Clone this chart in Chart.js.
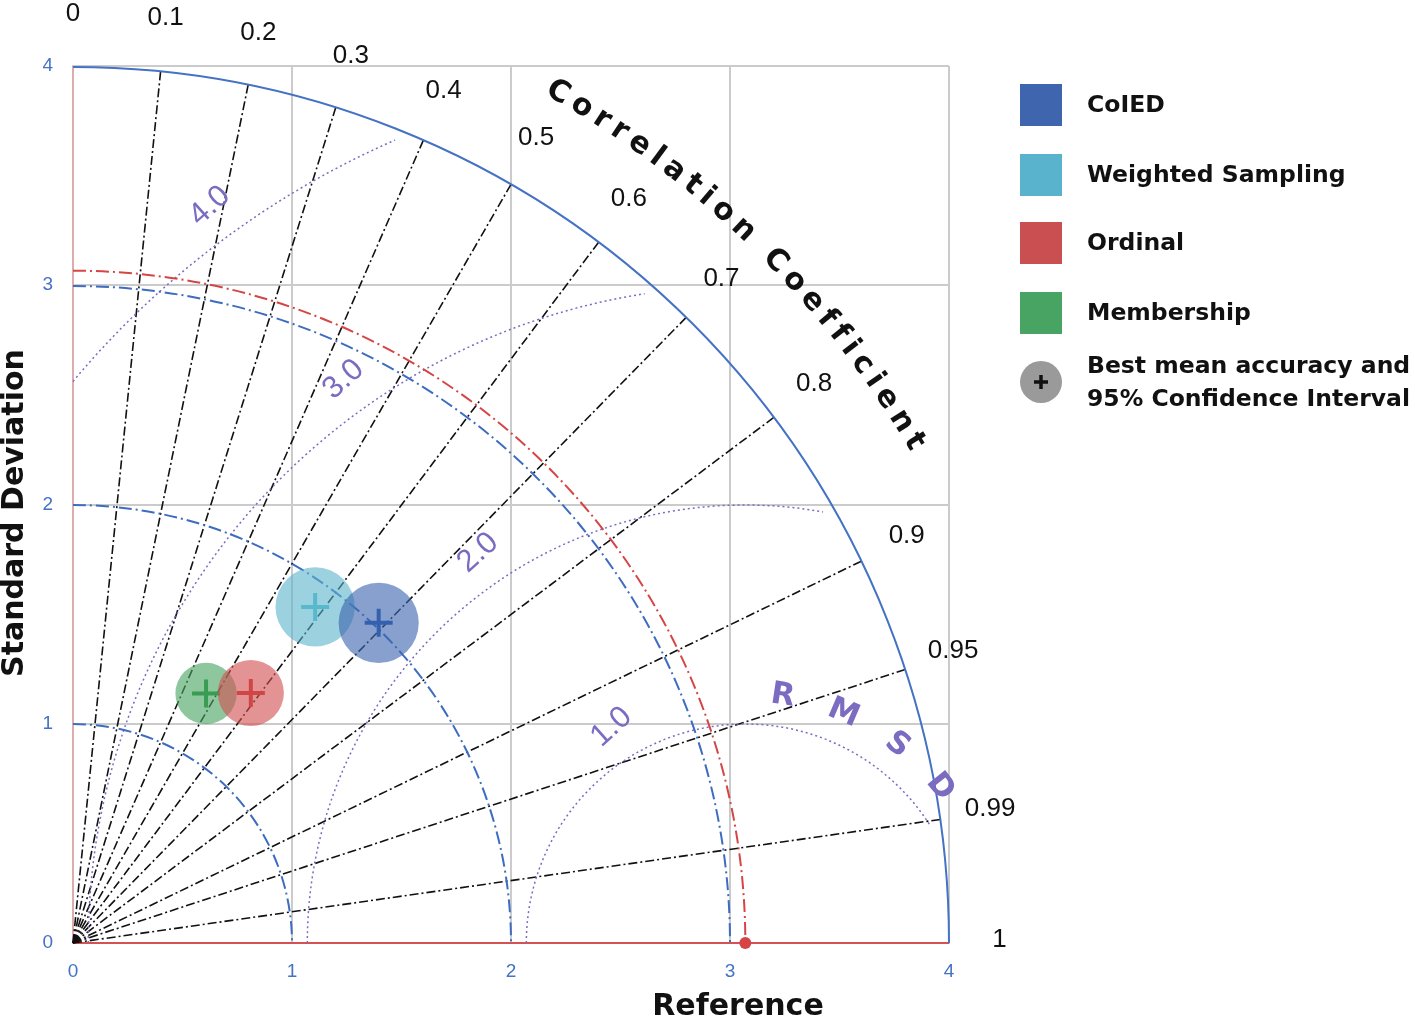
<!DOCTYPE html>
<html>
<head>
<meta charset="utf-8">
<script src="https://cdn.jsdelivr.net/npm/chart.js@4.4.1/dist/chart.umd.min.js"></script>
<style>
  html, body { margin: 0; padding: 0; background: #fff; }
  #wrap { position: relative; width: 1415px; height: 1020px; }
</style>
</head>
<body>
<div id="wrap"><canvas id="taylor"></canvas></div>
<script>
// Taylor diagram: std deviation (radius) vs correlation (angle), RMSD around the reference.
const METHODS = ['CoIED', 'Weighted Sampling', 'Ordinal', 'Membership'];
const STD_DEV = [2.02, 1.89, 1.40, 1.29];
const CORR = [0.691, 0.585, 0.580, 0.471];
const CI_RADIUS = [0.183, 0.181, 0.151, 0.140]; // 95% confidence interval, std-dev units

const REF_STD = 3.07;
const MAX_STD = 4;
const AXIS_TICKS = [0, 1, 2, 3, 4];
const STD_ARCS = [1, 2, 3];
const CORR_TICKS = [0, 0.1, 0.2, 0.3, 0.4, 0.5, 0.6, 0.7, 0.8, 0.9, 0.95, 0.99, 1];
const RMSD_LEVELS = [1, 2, 3, 4];
const RMSD_LABELS = ['1.0', '2.0', '3.0', '4.0'];

const SWATCH = ['#3e65ae', '#5ab3cc', '#c94f50', '#48a462'];
const FILL = ['rgba(62,101,174,0.62)', 'rgba(90,179,204,0.6)', 'rgba(210,80,82,0.62)', 'rgba(72,164,98,0.62)'];
const MARK = ['#3560b0', '#58b8cc', '#d04545', '#3a9c52'];

const BLUE = '#4472c4';
const PURPLE = '#7b6cc2';
const DEG = Math.PI / 180;

const toXY = i => ({ x: STD_DEV[i] * CORR[i], y: STD_DEV[i] * Math.sqrt(1 - CORR[i] * CORR[i]) });
const unitPx = chart => chart.scales.x.getPixelForValue(1) - chart.scales.x.getPixelForValue(0);

function arcText(ctx, text, cx, cy, radius, a0, a1) {
  // a0 / a1: angles (deg, counter-clockwise from +x) of the first and last glyph centres
  const chars = [...text];
  const w = chars.map(c => ctx.measureText(c).width);
  const inner = w.reduce((s, v) => s + v, 0) - w[0] / 2 - w[w.length - 1] / 2;
  const gap = ((a0 - a1) * DEG * radius - inner) / (chars.length - 1);
  let s = 0;
  chars.forEach((c, i) => {
    if (i > 0) s += w[i - 1] / 2 + gap + w[i] / 2;
    const ang = a0 * DEG - s / radius;
    ctx.save();
    ctx.translate(cx + radius * Math.cos(ang), cy - radius * Math.sin(ang));
    ctx.rotate(Math.PI / 2 - ang);
    ctx.fillText(c, 0, 0);
    ctx.restore();
  });
}

const taylorGrid = {
  id: 'taylorGrid',
  beforeDatasetsDraw(chart) {
    const { ctx, scales: { x, y } } = chart;
    const u = unitPx(chart);
    const ox = x.getPixelForValue(0), oy = y.getPixelForValue(0);
    const rx = x.getPixelForValue(REF_STD);
    ctx.save();

    // correlation = 0 and correlation = 1 edges
    ctx.setLineDash([]);
    ctx.strokeStyle = '#e3a3a3'; ctx.lineWidth = 1.5;
    ctx.beginPath(); ctx.moveTo(ox, oy); ctx.lineTo(ox, y.getPixelForValue(MAX_STD)); ctx.stroke();
    ctx.strokeStyle = '#d65252'; ctx.lineWidth = 2;
    ctx.beginPath(); ctx.moveTo(ox, oy); ctx.lineTo(x.getPixelForValue(MAX_STD), oy); ctx.stroke();

    // correlation rays
    ctx.strokeStyle = '#111'; ctx.lineWidth = 1.6; ctx.setLineDash([9, 3, 2, 3]);
    CORR_TICKS.filter(c => c > 0 && c < 1).forEach(c => {
      const a = Math.acos(c);
      ctx.beginPath(); ctx.moveTo(ox, oy);
      ctx.lineTo(ox + MAX_STD * u * Math.cos(a), oy - MAX_STD * u * Math.sin(a));
      ctx.stroke();
    });

    // RMSD contours around the reference point
    ctx.strokeStyle = PURPLE; ctx.lineWidth = 1.5; ctx.setLineDash([2, 3]);
    const clipR = 3.95;
    RMSD_LEVELS.forEach(r => {
      const start = r <= REF_STD ? Math.PI : Math.acos(-REF_STD / r);
      const xe = (clipR * clipR - r * r + REF_STD * REF_STD) / (2 * REF_STD);
      const end = Math.acos(Math.max(-1, Math.min(1, (xe - REF_STD) / r)));
      ctx.beginPath(); ctx.arc(rx, oy, r * u, -start, -end); ctx.stroke();
    });

    // standard deviation arcs
    ctx.strokeStyle = '#3d6cc0'; ctx.lineWidth = 2; ctx.setLineDash([13, 4, 2, 4]);
    STD_ARCS.forEach(r => { ctx.beginPath(); ctx.arc(ox, oy, r * u, -Math.PI / 2, 0); ctx.stroke(); });
    ctx.strokeStyle = '#d64545';
    ctx.beginPath(); ctx.arc(ox, oy, REF_STD * u, -Math.PI / 2, 0); ctx.stroke();

    ctx.setLineDash([]); ctx.strokeStyle = BLUE; ctx.lineWidth = 2;
    ctx.beginPath(); ctx.arc(ox, oy, MAX_STD * u, -Math.PI / 2, 0); ctx.stroke();
    ctx.restore();
  },
  afterDraw(chart) {
    const { ctx, scales: { x, y }, chartArea: area } = chart;
    const u = unitPx(chart);
    const ox = x.getPixelForValue(0), oy = y.getPixelForValue(0);
    const rx = x.getPixelForValue(REF_STD);
    ctx.save();
    ctx.textAlign = 'center'; ctx.textBaseline = 'middle';

    // axis titles
    ctx.fillStyle = '#111'; ctx.font = 'bold 30px "DejaVu Sans"';
    ctx.fillText('Reference', 738, 1007);
    ctx.save(); ctx.translate(15, 513); ctx.rotate(-Math.PI / 2);
    ctx.fillText('Standard Deviation', 0, 0); ctx.restore();

    // correlation tick labels
    ctx.font = '26px "Liberation Sans"';
    CORR_TICKS.forEach(c => {
      const a = Math.acos(c), r = 4.23 * u;
      ctx.fillText(String(c), ox + r * Math.cos(a), oy - r * Math.sin(a) - 3);
    });
    ctx.font = 'bold 30px "DejaVu Sans"';
    arcText(ctx, 'Correlation Coefficient', ox, oy, 4.47 * u, 60.3, 30.8);

    // RMSD labels, set along a line out from the reference point
    const labelAngle = [121.8, 124.4, 125.5, 126];
    ctx.fillStyle = PURPLE; ctx.font = '31px "Liberation Sans"';
    RMSD_LEVELS.forEach((r, i) => {
      const a = labelAngle[i] * DEG, d = (r + 0.16) * u;
      ctx.save();
      ctx.translate(rx + d * Math.cos(a), oy - d * Math.sin(a));
      ctx.rotate(-42 * DEG);
      ctx.fillText(RMSD_LABELS[i], 0, 0);
      ctx.restore();
    });
    ctx.font = 'bold 31px "DejaVu Sans"';
    arcText(ctx, 'RMSD', rx, oy, 1.14 * u, 81.4, 38.7);

    // legend
    const lx = area.right + 71, tx = area.right + 138;
    const rows = [18, 88, 156, 226];
    ctx.textAlign = 'left'; ctx.font = 'bold 23.5px "DejaVu Sans"';
    METHODS.forEach((m, i) => {
      const top = area.top + rows[i];
      ctx.fillStyle = SWATCH[i]; ctx.fillRect(lx, top, 42, 42);
      ctx.fillStyle = '#111'; ctx.fillText(m, tx, top + 22);
    });
    const cy = area.top + 316;
    ctx.fillStyle = '#9a9a9a';
    ctx.beginPath(); ctx.arc(lx + 21, cy, 21, 0, 2 * Math.PI); ctx.fill();
    ctx.strokeStyle = '#111'; ctx.lineWidth = 3.5;
    ctx.beginPath(); ctx.moveTo(lx + 14, cy); ctx.lineTo(lx + 28, cy);
    ctx.moveTo(lx + 21, cy - 7); ctx.lineTo(lx + 21, cy + 7); ctx.stroke();
    ctx.fillStyle = '#111';
    ctx.fillText('Best mean accuracy and', tx, cy - 15);
    ctx.fillText('95% Confidence Interval', tx, cy + 18);
    ctx.restore();
  }
};

const datasets = [{
  label: 'Reference',
  data: [{ x: REF_STD, y: 0 }],
  pointRadius: 6, backgroundColor: '#d64545', borderWidth: 0, clip: false, order: 20
}];
METHODS.forEach((name, i) => {
  datasets.push({
    label: name + ' 95% CI',
    data: [toXY(i)],
    pointStyle: 'circle',
    pointRadius: ctx => CI_RADIUS[i] * unitPx(ctx.chart),
    backgroundColor: FILL[i], borderWidth: 0, order: 2 * i + 1
  });
  datasets.push({
    label: name,
    data: [toXY(i)],
    pointStyle: 'cross', pointRadius: 14,
    borderColor: MARK[i], borderWidth: 4, order: 2 * i
  });
});

const tickOpts = { color: BLUE, font: { size: 19, family: 'Liberation Sans' } };
const gridOpts = { color: '#cbcbcb', lineWidth: 2, drawTicks: false };

new Chart(document.getElementById('taylor'), {
  type: 'scatter',
  data: { datasets },
  options: {
    responsive: true,
    maintainAspectRatio: false,
    animation: false,
    events: [],
    layout: { padding: { top: 66, right: 466, bottom: 0, left: 0 } },
    plugins: { legend: { display: false }, tooltip: { enabled: false } },
    scales: {
      x: {
        min: 0, max: MAX_STD,
        afterBuildTicks: s => { s.ticks = AXIS_TICKS.map(v => ({ value: v })); },
        afterFit: s => { s.height = 77; },
        ticks: { ...tickOpts, padding: 17 },
        grid: gridOpts,
        border: { color: '#cbcbcb', width: 2 }
      },
      y: {
        min: 0, max: MAX_STD,
        afterBuildTicks: s => { s.ticks = AXIS_TICKS.map(v => ({ value: v })); },
        afterFit: s => { s.width = 73; },
        ticks: { ...tickOpts, padding: 20 },
        grid: gridOpts,
        border: { color: '#cbcbcb', width: 2 }
      }
    }
  },
  plugins: [taylorGrid]
});
</script>
</body>
</html>
